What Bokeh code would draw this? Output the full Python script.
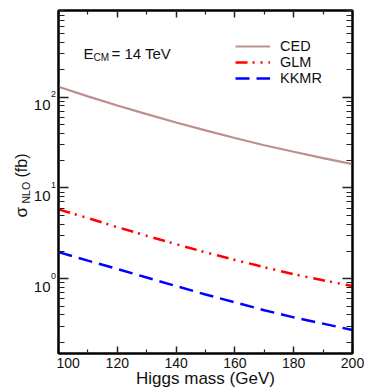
import numpy as np
from bokeh.plotting import figure
from bokeh.layouts import row
from bokeh.models import (FixedTicker, LinearAxis, LogAxis, Label, Legend, LegendItem,
                          CustomJSTickFormatter, Range1d)
from bokeh.embed import file_html
from bokeh.resources import INLINE

# ---- data ----
mass = [100, 110, 120, 130, 140, 150, 160, 170, 180, 190, 200]
ced = [130, 102, 81, 65, 52.5, 43, 35.5, 29.5, 25, 21.3, 18.3]
glm = [5.8, 4.65, 3.7, 2.97, 2.4, 1.95, 1.61, 1.34, 1.12, 0.96, 0.83]
kkmr = [1.96, 1.58, 1.28, 1.03, 0.83, 0.67, 0.55, 0.45, 0.375, 0.32, 0.272]
series_names = ["CED", "GLM", "KKMR"]
x_major = [100, 120, 140, 160, 180, 200]
x_minor = [110, 130, 150, 170, 190]
y_major = [1, 10, 100]
y_minor = [m * 10.0 ** k for k in range(-1, 3) for m in range(2, 10)]

FONT = "Liberation Sans"
TXT = "#111111"
H = 390
TOP, BOTTOM = 10, 37

yr = Range1d(0.15, 900)

# ---- main plot ----
p = figure(width=310, height=H, y_axis_type="log",
           x_range=Range1d(100, 200), y_range=yr,
           output_backend="svg", toolbar_location=None,
           min_border_left=2, min_border_right=14, min_border_top=TOP, min_border_bottom=BOTTOM)
p.xgrid.visible = False
p.ygrid.visible = False
p.outline_line_color = "black"
p.outline_line_width = 2
p.background_fill_color = "white"
p.border_fill_color = "white"

blank = CustomJSTickFormatter(code="return ''")

def style_axis(ax, ticker, major_len, minor_len):
    ax.ticker = ticker
    ax.axis_line_width = 2
    ax.axis_line_color = "black"
    ax.major_tick_in = major_len
    ax.major_tick_out = 0
    ax.minor_tick_in = minor_len
    ax.minor_tick_out = 0
    ax.major_tick_line_width = 1.5
    ax.minor_tick_line_width = 1.2
    ax.major_tick_line_color = "#222222"
    ax.minor_tick_line_color = "#222222"

xt = FixedTicker(ticks=x_major, minor_ticks=x_minor)
yt = FixedTicker(ticks=y_major, minor_ticks=y_minor)

xa = p.xaxis[0]
style_axis(xa, xt, 7, 4)
xa.major_label_text_font = FONT
xa.major_label_text_font_size = "14px"
xa.major_label_text_color = TXT
xa.major_label_standoff = 4
xa.axis_label = "Higgs mass (GeV)"
xa.axis_label_text_font = FONT
xa.axis_label_text_font_size = "17px"
xa.axis_label_text_font_style = "normal"
xa.axis_label_text_color = TXT
xa.axis_label_standoff = -2

ya = p.yaxis[0]
style_axis(ya, yt, 10, 6)
ya.formatter = blank
ya.major_label_standoff = 0

top = LinearAxis(formatter=blank, major_label_standoff=0)
style_axis(top, xt, 7, 4)
p.add_layout(top, "above")
right = LogAxis(formatter=blank, major_label_standoff=0)
style_axis(right, yt, 10, 6)
p.add_layout(right, "right")

# ---- curves ----
r1 = p.line(mass, ced, line_color="#bc8f8f", line_width=2.2)
r2 = p.line(mass, glm, line_color="#ff0000", line_width=2.5, line_dash="12 5 2 6 2 6")
r3 = p.line(mass, kkmr, line_color="#0000ff", line_width=2.5, line_dash="14 7")

legend = Legend(items=[LegendItem(label=n, renderers=[r]) for n, r in zip(series_names, [r1, r2, r3])],
                location=(177, 267), glyph_width=35, glyph_height=16, label_height=16,
                label_standoff=10, spacing=0, padding=0, margin=0,
                border_line_color=None, background_fill_alpha=0,
                label_text_font=FONT, label_text_font_size="14.5px", label_text_color=TXT)
p.add_layout(legend)

# ---- E_CM annotation ----
p.add_layout(Label(x=25, y=300, x_units="screen", y_units="screen", text="E",
                   text_align="left", text_baseline="alphabetic",
                   text_font=FONT, text_font_size="15px", text_color=TXT))
p.add_layout(Label(x=35, y=296, x_units="screen", y_units="screen", text="CM",
                   text_align="left", text_baseline="alphabetic",
                   text_font=FONT, text_font_size="10px", text_color=TXT))
p.add_layout(Label(x=53, y=300, x_units="screen", y_units="screen", text="= 14 TeV",
                   text_align="left", text_baseline="alphabetic",
                   text_font=FONT, text_font_size="15px", text_color=TXT))

# ---- left strip: y tick labels (10^n) and the y title, sharing the y range ----
q = figure(width=56, height=H, y_axis_type="log", x_range=Range1d(0, 56), y_range=yr,
           output_backend="svg", toolbar_location=None,
           x_axis_location=None, y_axis_location=None,
           min_border_left=0, min_border_right=0, min_border_top=TOP, min_border_bottom=BOTTOM)
q.outline_line_color = None
q.xgrid.visible = False
q.ygrid.visible = False
q.background_fill_color = "white"
q.border_fill_color = "white"

for t in y_major:
    e = int(round(np.log10(t)))
    q.add_layout(Label(x=50, y=t, x_units="screen", y_units="data", text="10",
                       text_align="right", text_baseline="alphabetic", y_offset=-8,
                       text_font=FONT, text_font_size="15px", text_color=TXT))
    q.add_layout(Label(x=50.5, y=t, x_units="screen", y_units="data", text=str(e),
                       text_align="left", text_baseline="alphabetic", y_offset=3,
                       text_font=FONT, text_font_size="9px", text_color=TXT))

q.add_layout(Label(x=21, y=136, x_units="screen", y_units="screen", text="σ", angle=np.pi / 2,
                   text_align="left", text_baseline="alphabetic",
                   text_font=FONT, text_font_size="17px", text_color=TXT))
q.add_layout(Label(x=25, y=150, x_units="screen", y_units="screen", text="NLO", angle=np.pi / 2,
                   text_align="left", text_baseline="alphabetic",
                   text_font=FONT, text_font_size="10.5px", text_color=TXT))
q.add_layout(Label(x=21, y=176, x_units="screen", y_units="screen", text="(fb)", angle=np.pi / 2,
                   text_align="left", text_baseline="alphabetic",
                   text_font=FONT, text_font_size="16px", text_color=TXT))

layout = row(q, p, spacing=0)
open("out.html", "w").write(file_html(layout, INLINE))
